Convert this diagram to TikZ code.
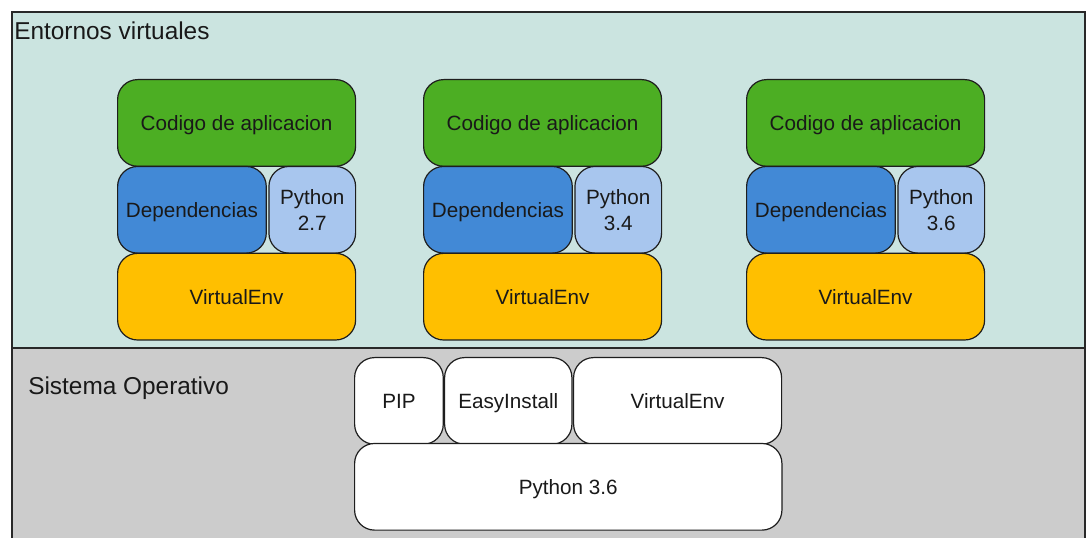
\documentclass[tikz,border=0pt]{standalone}
\usepackage{fontspec}
\setmainfont{Liberation Sans}
\usetikzlibrary{positioning}

\tikzset{
  capa/.style={draw={rgb, 255:red, 30; green, 30; blue, 30}, line width=0.9, rounded corners=15,
    inner sep=0pt, align=center, text={rgb, 255:red, 25; green, 25; blue, 25},
    font=\fontsize{15.5}{19.5}\selectfont},
  linea/.style={capa, text height=12pt, text depth=0pt},
  codigo/.style={linea, fill={rgb, 255:red, 76; green, 174; blue, 35}, minimum width=178.5pt, minimum height=65pt},
  deps/.style={linea, fill={rgb, 255:red, 66; green, 137; blue, 214}, minimum width=111.5pt, minimum height=65pt},
  pyver/.style={capa, fill={rgb, 255:red, 168; green, 198; blue, 238}, minimum width=65pt, minimum height=65pt},
  venv/.style={linea, fill={rgb, 255:red, 255; green, 191; blue, 0}, minimum width=178.5pt, minimum height=65pt},
  sobox/.style={linea, fill=white, minimum height=65pt},
  titulo/.style={anchor=west, inner sep=0pt, text={rgb, 255:red, 25; green, 25; blue, 25},
    text height=13.2pt, text depth=0pt, font=\fontsize{18.3}{22}\selectfont}
}

\begin{document}
\begin{tikzpicture}[x=0.75pt,y=0.75pt,yscale=-1]
\useasboundingbox (0,0) rectangle (1086,538);

%Panels
\fill [fill={rgb, 255:red, 203; green, 228; blue, 224}] (12,12) rectangle (1085,348);
\fill [fill={rgb, 255:red, 204; green, 204; blue, 204}] (12,348) rectangle (1085,538);
\draw [line width=1.1, draw={rgb, 255:red, 40; green, 40; blue, 40}] (12,538) -- (12,12) -- (1085,12) -- (1085,538);
\draw [line width=1.1, draw={rgb, 255:red, 40; green, 40; blue, 40}] (12,348) -- (1085,348);

% Text Node
\node [titulo] (entornos) at (14,31) {Entornos virtuales};
% Text Node
\node [titulo] (sistema) at (28,386) {Sistema Operativo};

%Virtual environments
\foreach \cx/\ver [count=\i] in {117/2.7, 423/3.4, 746/3.6} {
  \node [codigo, anchor=north west] (cod\i) at (\cx,79) {Codigo de aplicacion};
  \node [deps, anchor=north west] (dep\i) at ([yshift=-0.75pt]cod\i.south west) {Dependencias};
  \node [pyver, anchor=north east] (py\i) at ([yshift=-0.75pt]cod\i.south east) {Python\\\ver};
  \node [venv, anchor=north west] (venv\i) at ([yshift=-0.75pt]dep\i.south west) {VirtualEnv};
}

%Operating system
\node [sobox, minimum width=66.5pt, anchor=north west] (pip) at (354,357) {PIP};
\node [sobox, minimum width=95.5pt, anchor=north west] (easy) at (444,357) {EasyInstall};
\node [sobox, minimum width=156pt, anchor=north west] (venvos) at (573,357) {VirtualEnv};
\node [sobox, minimum width=320.5pt, anchor=north west] (python) at ([yshift=-1.5pt]pip.south west) {Python 3.6};

\end{tikzpicture}
\end{document}
